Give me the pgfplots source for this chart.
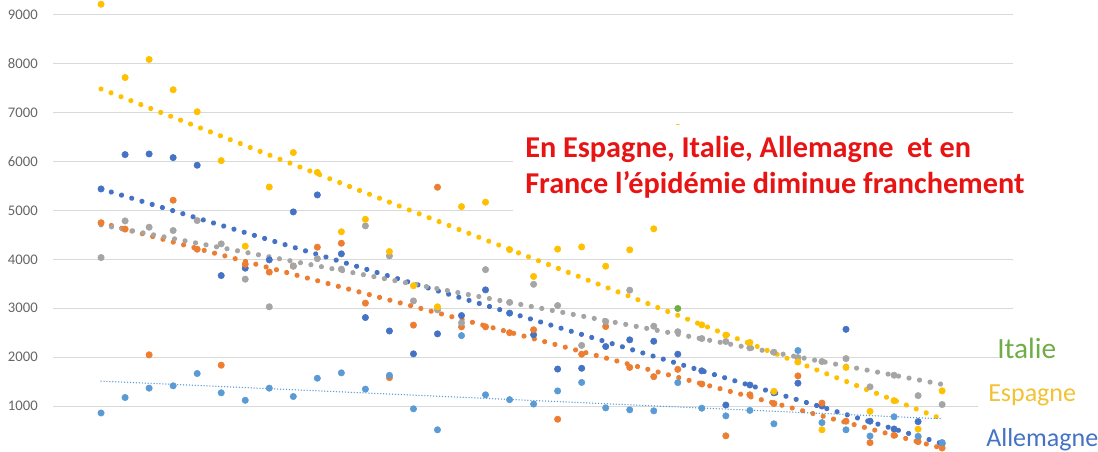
\documentclass[border=0pt]{standalone}
\usepackage{fontspec}
\setmainfont{Carlito}
\usepackage{pgfplots}
\usepackage{pgfplotstable}
\pgfplotsset{compat=1.18}

\definecolor{cblue}{HTML}{4472C4}
\definecolor{corange}{HTML}{ED7D31}
\definecolor{cgray}{HTML}{A5A5A5}
\definecolor{cyellow}{HTML}{FFC000}
\definecolor{clblue}{HTML}{5B9BD5}
\definecolor{cgreen}{HTML}{70AD47}
\definecolor{gridc}{HTML}{D9D9D9}
\definecolor{tickc}{HTML}{666666}
\definecolor{titlered}{HTML}{E81414}
\definecolor{labyellow}{HTML}{F2C233}

% daily values, one column per series
\pgfplotstableread{
i  de   fr   it   es   lb
0  5441 4750 4037 9220 857
1  6144 4620 4787 7720 1174
2  6157 2047 4658 8090 1365
3  6082 5210 4590 7470 1413
4  5926 4208 4794 7020 1665
5  3669 1835 4317 6020 1270
6  3820 3900 3595 4270 1117
7  3990 3740 3030 5480 1365
8  4971 3865 3860 6185 1194
9  5319 4250 4015 5780 1568
10 4113 4330 3800 4565 1678
11 2810 3105 4685 4820 1345
12 2535 1580 4071 4160 1628
13 2067 2655 3150 3460 942
14 2476 5476 2967 3030 513
15 2851 2620 2700 5080 2440
16 3376 2620 3790 5170 1229
17 2900 2500 3120 4200 1130
18 2457 2560 3490 3650 1040
19 1756 729  3055 4210 1308
20 1772 2060 2240 4255 1482
21 2217 2626 2728 3860 962
22 2354 1790 3370 4195 922
23 2325 1600 2633 4625 901
24 2060 1750 2520 6700 1478
25 1720 1450 2380 2660 955
26 1020 390  2320 2450 798
27 1430 1229 2190 2300 910
28 1270 1050 2100 1300 636
29 1467 1616 1990 1900 2135
30 1000 1060 1910 513  660
31 2569 689  1970 1790 513
32 689  250  1392 890  386
33 530  400  1630 1110 780
34 680  270  1212 527  380
35 230  140  1030 1310 252
}\data

\begin{document}
\begin{tikzpicture}
\begin{axis}[
    at={(39.75pt,0pt)}, anchor=south west,
    scale only axis, width=720pt, height=339pt,
    xmin=-2, xmax=37.95, ymin=59, ymax=9307,
    axis line style={draw=none},
    xtick=\empty,
    ytick={1000,2000,...,9000},
    ymajorgrids,
    major grid style={draw=gridc, line width=0.75pt},
    major tick length=0pt,
    yticklabel style={font=\fontsize{11}{13}\selectfont, text=tickc, inner sep=0pt, xshift=-11.25pt},
    /pgf/number format/assume math mode=true,
    /pgf/number format/1000 sep={},
    mark size=2.4pt,
]
\addplot[only marks, mark=*, cblue, mark options={line width=0.4pt}] table[x=i, y=de] {\data};
\addplot[only marks, mark=*, corange, mark options={line width=0.4pt}] table[x=i, y=fr] {\data};
\addplot[only marks, mark=*, cgray, mark options={line width=0.4pt}] table[x=i, y=it] {\data};
\addplot[only marks, mark=*, cyellow, mark options={line width=0.4pt}] table[x=i, y=es] {\data};
\addplot[only marks, mark=*, clblue, mark options={line width=0.4pt}] table[x=i, y=lb] {\data};
\addplot[only marks, mark=*, cgreen, mark options={line width=0.4pt}] coordinates {(24,2995)};

% linear trendlines
\addplot[cyellow, line width=3.9pt, line cap=round, dash pattern=on 0.01pt off 8pt] coordinates {(0,7487) (35,732)};
\addplot[cblue, line width=3.9pt, line cap=round, dash pattern=on 0.01pt off 8pt] coordinates {(0,5441) (35,232)};
\addplot[corange, line width=3.9pt, line cap=round, dash pattern=on 0.01pt off 8pt] coordinates {(0,4750) (35,137)};
\addplot[cgray, line width=3.9pt, line cap=round, dash pattern=on 0.01pt off 8pt] coordinates {(0,4705) (35,1443)};
\addplot[clblue, line width=1.1pt, line cap=round, dash pattern=on 0.01pt off 2.2pt] coordinates {(0,1509) (35,738)};
\end{axis}

% text boxes, in pixel units of the reference (y downwards)
\begin{scope}[x=0.75pt, y=-0.75pt, yshift=339pt]
\fill[white] (513,125) rectangle (1098,222);
\fill[white] (999,335) rectangle (1098,366);
\fill[white] (978,380) rectangle (1098,412);
\node[anchor=base west, inner sep=0pt, text=titlered, font=\bfseries\fontsize{22.7}{27}\selectfont]
    at (525,158) {En Espagne, Italie, Allemagne\ \ et en};
\node[anchor=base west, inner sep=0pt, text=titlered, font=\bfseries\fontsize{22.7}{27}\selectfont]
    at (525,194) {France l’épidémie diminue franchement};
\node[anchor=base west, inner sep=0pt, text=cgreen, font=\fontsize{22}{26}\selectfont] at (997,359) {Italie};
\node[anchor=base west, inner sep=0pt, text=labyellow, font=\fontsize{19.5}{24}\selectfont] at (988,402) {Espagne};
\node[anchor=base west, inner sep=0pt, text=cblue, font=\fontsize{19.5}{24}\selectfont] at (986,447) {Allemagne};
\end{scope}

\pgfresetboundingbox
\path[use as bounding box] (0,0) rectangle (823.5pt,339pt);
\end{tikzpicture}
\end{document}
